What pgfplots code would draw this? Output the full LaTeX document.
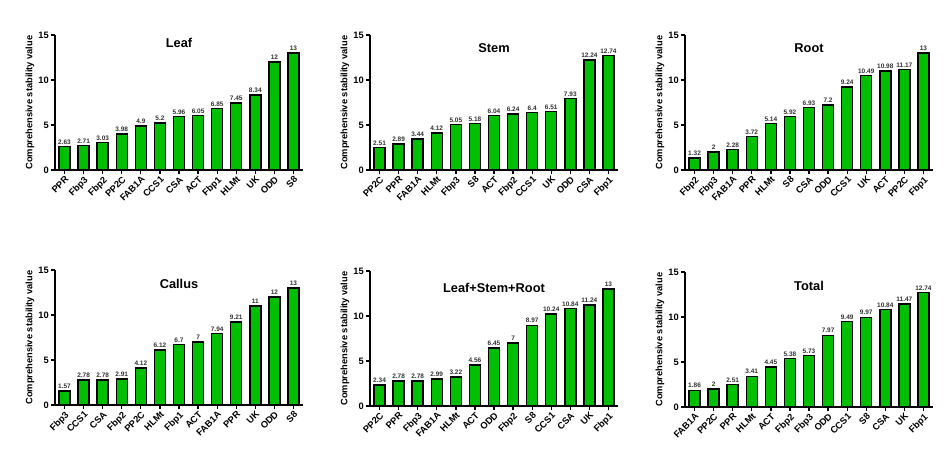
\documentclass[border=0pt]{standalone}
\usepackage{fontspec}
\setmainfont{Liberation Sans}
\usepackage{pgfplots}
\usepackage{pgfplotstable}
\pgfplotsset{compat=1.18}
\definecolor{barg}{RGB}{0,190,0}

\pgfplotstableread{
x y name
0 2.63 PPR
1 2.71 Fbp3
2 3.03 Fbp2
3 3.98 PP2C
4 4.9 FAB1A
5 5.2 CCS1
6 5.96 CSA
7 6.05 ACT
8 6.85 Fbp1
9 7.45 HLMt
10 8.34 UK
11 12 ODD
12 13 S8
}\leaf

\pgfplotstableread{
x y name
0 2.51 PP2C
1 2.89 PPR
2 3.44 FAB1A
3 4.12 HLMt
4 5.05 Fbp3
5 5.18 S8
6 6.04 ACT
7 6.24 Fbp2
8 6.4 CCS1
9 6.51 UK
10 7.93 ODD
11 12.24 CSA
12 12.74 Fbp1
}\stem

\pgfplotstableread{
x y name
0 1.32 Fbp2
1 2 Fbp3
2 2.28 FAB1A
3 3.72 PPR
4 5.14 HLMt
5 5.92 S8
6 6.93 CSA
7 7.2 ODD
8 9.24 CCS1
9 10.49 UK
10 10.98 ACT
11 11.17 PP2C
12 13 Fbp1
}\root

\pgfplotstableread{
x y name
0 1.57 Fbp3
1 2.78 CCS1
2 2.78 CSA
3 2.91 Fbp2
4 4.12 PP2C
5 6.12 HLMt
6 6.7 Fbp1
7 7 ACT
8 7.94 FAB1A
9 9.21 PPR
10 11 UK
11 12 ODD
12 13 S8
}\callus

\pgfplotstableread{
x y name
0 2.34 PP2C
1 2.78 PPR
2 2.78 Fbp3
3 2.99 FAB1A
4 3.22 HLMt
5 4.56 ACT
6 6.45 ODD
7 7 Fbp2
8 8.97 S8
9 10.24 CCS1
10 10.84 CSA
11 11.24 UK
12 13 Fbp1
}\lsr

\pgfplotstableread{
x y name
0 1.86 FAB1A
1 2 PP2C
2 2.51 PPR
3 3.41 HLMt
4 4.45 ACT
5 5.38 Fbp2
6 5.73 Fbp3
7 7.97 ODD
8 9.49 CCS1
9 9.97 S8
10 10.84 CSA
11 11.47 UK
12 12.74 Fbp1
}\total

\pgfplotsset{
  panel/.style={
    scale only axis, width=248pt, height=135pt,
    anchor=south west,
    xmin=-0.5, xmax=12.5, ymin=0, ymax=15,
    ytick={0,5,10,15}, xtick={0,...,12},
    axis x line*=bottom, axis y line*=left,
    axis line style={line width=1.3pt,-},
    tick align=outside, major tick length=4pt,
    every tick/.style={black,line width=1.3pt},
    x tick label style={rotate=45, anchor=north east, font=\bfseries\fontsize{9.3}{10}\selectfont, inner sep=1pt},
    y tick label style={font=\bfseries\fontsize{9.3}{10}\selectfont, inner sep=2pt},
    ylabel={Comprehensive stability value},
    every axis y label/.style={at={(axis description cs:-0.101,0.5)}, rotate=90, anchor=center, font=\bfseries\fontsize{9.3}{10}\selectfont},
    title style={at={(0.5,0.856)}, anchor=center, font=\bfseries\fontsize{12.8}{14}\selectfont},
    ybar, bar width=11pt,
    clip=false,
    nodes near coords={\pgfmathprintnumber[fixed,precision=2]{\pgfplotspointmeta}},
    every node near coord/.append style={font=\bfseries\fontsize{6.5}{7}\selectfont, text=black!80, inner sep=1.5pt},
    /pgf/number format/assume math mode=true,
  },
  barstyle/.style={fill=barg, draw=black, line width=1.5pt},
}

\begin{document}
\begin{tikzpicture}
\begin{axis}[panel, at={(55pt,278pt)}, title={Leaf}, title style={at={(0.5,0.896)}}, xticklabels from table={\leaf}{name}]
\addplot[barstyle] table[x=x,y=y]{\leaf};
\end{axis}
\begin{axis}[panel, at={(370pt,278pt)}, title={Stem}, xticklabels from table={\stem}{name}]
\addplot[barstyle] table[x=x,y=y]{\stem};
\end{axis}
\begin{axis}[panel, at={(685pt,278pt)}, title={Root}, xticklabels from table={\root}{name}]
\addplot[barstyle] table[x=x,y=y]{\root};
\end{axis}
\begin{axis}[panel, at={(55pt,43pt)}, title={Callus}, xticklabels from table={\callus}{name}]
\addplot[barstyle] table[x=x,y=y]{\callus};
\end{axis}
\begin{axis}[panel, at={(370pt,42pt)}, title={Leaf+Stem+Root}, title style={at={(0.5,0.83)}}, xticklabels from table={\lsr}{name}]
\addplot[barstyle] table[x=x,y=y]{\lsr};
\end{axis}
\begin{axis}[panel, at={(685pt,41pt)}, title={Total}, xticklabels from table={\total}{name}]
\addplot[barstyle] table[x=x,y=y]{\total};
\end{axis}
\pgfresetboundingbox
\useasboundingbox (0,0) rectangle (952pt,448pt);
\end{tikzpicture}
\end{document}
